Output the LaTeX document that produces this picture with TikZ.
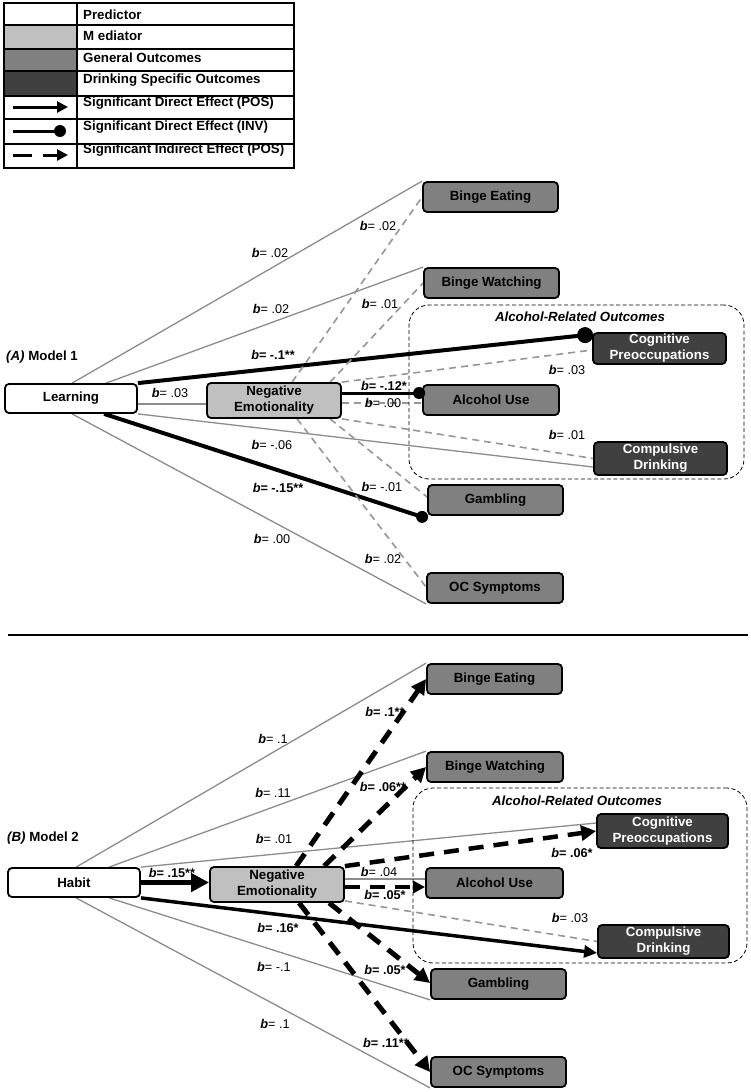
\documentclass[tikz,border=0pt]{standalone}
\usepackage{fontspec}
\setmainfont{Liberation Sans}
\usetikzlibrary{arrows.meta,calc}
\pgfdeclarelayer{edges}
\pgfsetlayers{edges,main}
\definecolor{medgray}{RGB}{192,192,192}
\definecolor{gengray}{RGB}{128,128,128}
\definecolor{drkgray}{RGB}{64,64,64}
\definecolor{linegray}{RGB}{140,140,140}
\definecolor{dashgray}{RGB}{150,150,150}
\newcommand{\bb}[1]{\textbf{\textit{b}}= #1}
\newcommand{\bbs}[1]{\textbf{\textit{b}= #1}}
\begin{document}
\begin{tikzpicture}[x=1pt,y=-1pt,
  box/.style={draw=black, line width=1.8pt, rounded corners=4pt, align=center, inner sep=1pt,
    font=\bfseries\fontsize{13.3}{16}\selectfont},
  pred/.style={box, fill=white},
  med/.style={box, fill=medgray},
  gen/.style={box, fill=gengray},
  drk/.style={box, fill=drkgray, text=white},
  grp/.style={draw=black, line width=0.8pt, dash pattern=on 4pt off 2.5pt, rounded corners=20pt},
  thin/.style={draw=linegray, line width=1.3pt},
  thindash/.style={draw=dashgray, line width=1.6pt, dash pattern=on 7pt off 5pt},
  direct/.style={draw=black, line width=4pt},
  indirect/.style={draw=black, line width=5pt, dash pattern=on 15pt off 10pt, -{Triangle[length=15pt,width=15pt]}},
  lab/.style={font=\fontsize{12.7}{14}\selectfont, inner sep=0pt},
  legtxt/.style={font=\bfseries\fontsize{13.3}{14}\selectfont, inner sep=0pt, anchor=west},
  dotmark/.style={fill=black}
]
\useasboundingbox (0,0) rectangle (750,1092);

% ---------------- Legend ----------------
\fill[medgray] (4,25) rectangle (77,49);
\fill[gengray] (4,49) rectangle (77,71);
\fill[drkgray] (4,71) rectangle (77,96);
\draw[line width=1.3pt] (4,3) rectangle (294,168);
\foreach \yy in {25,49,71,96,119,144} \draw[line width=1.3pt] (4,\yy) -- (294,\yy);
\draw[line width=1.3pt] (77,3) -- (77,168);
\node[legtxt] (lt1) at (83,14.5) {Predictor};
\node[legtxt] (lt2) at (83,35.5) {M ediator};
\node[legtxt] (lt3) at (83,58) {General Outcomes};
\node[legtxt] (lt4) at (83,80) {Drinking Specific Outcomes};
\node[legtxt] (lt5) at (83,103) {Significant Direct Effect (POS)};
\node[legtxt] (lt6) at (83,127) {Significant Direct Effect (INV)};
\node[legtxt] (lt7) at (83,150) {Significant Indirect Effect (POS)};
\coordinate (lgA1) at (13,107); \coordinate (lgA2) at (68,107);
\draw[line width=3pt, -{Triangle[length=11pt,width=11pt]}] (lgA1) -- (lgA2);
\coordinate (lgB1) at (13,131); \coordinate (lgB2) at (60,131);
\draw[line width=3pt] (lgB1) -- (lgB2);
\fill (lgB2) circle[radius=6pt];
\coordinate (lgC1) at (13,155); \coordinate (lgC2) at (68,155);
\draw[line width=3pt, dash pattern=on 19pt off 11pt, -{Triangle[length=11pt,width=11pt]}] (lgC1) -- (lgC2);

% ---------------- Model 1 ----------------
\node[legtxt] (titA) at (6,357) {\textit{(A)} Model 1};
\node[grp, minimum width=335pt, minimum height=174pt] (grpA) at (576.5,392) {};
\node[font=\bfseries\itshape\fontsize{13.3}{14}\selectfont, inner sep=0pt] (grpAt) at (580,317) {Alcohol-Related Outcomes};

\node[pred, minimum width=132pt, minimum height=29pt] (learn) at (71,398.5) {Learning};
\node[med, minimum width=134pt, minimum height=35pt] (ne1) at (274,400.5) {Negative\\Emotionality};
\node[gen, minimum width=135pt, minimum height=30pt] (be1) at (490.5,197) {Binge Eating};
\node[gen, minimum width=135pt, minimum height=30pt] (bw1) at (491.5,283) {Binge Watching};
\node[drk, minimum width=133pt, minimum height=31pt] (cog1) at (659.5,348.5) {Cognitive\\Preoccupations};
\node[gen, minimum width=136pt, minimum height=30pt] (au1) at (491,400) {Alcohol Use};
\node[drk, minimum width=133pt, minimum height=33pt] (cd1) at (660.5,458.5) {Compulsive\\Drinking};
\node[gen, minimum width=135pt, minimum height=30pt] (gam1) at (495.5,500) {Gambling};
\node[gen, minimum width=136pt, minimum height=30pt] (oc1) at (495,588) {OC Symptoms};

\coordinate (c1dot) at ($(cog1.north west)+(-7,3)$);
\coordinate (a1dot) at ($(au1.west)+(-3,-7)$);
\coordinate (g1dot) at ($(gam1.south west)+(-5,1)$);

\begin{pgfonlayer}{edges}
\draw[thin] ($(learn.north west)+(68,0)$) -- (be1.north west);
\draw[thin] ($(learn.north west)+(102,0)$) -- (bw1.north west);
\draw[direct] (learn.north east) -- (c1dot);
\draw[thin] ($(learn.east)+(0,5.5)$) -- ($(ne1.west)+(0,3.5)$);
\draw[thin] (learn.south east) -- ($(cd1.west)+(0,8.5)$);
\draw[direct] ($(learn.south west)+(100,0)$) -- (g1dot);
\draw[thin] ($(learn.south west)+(68,0)$) -- (oc1.south west);
\draw[thindash] ($(ne1.north west)+(86,0)$) -- (be1.west);
\draw[thindash] ($(ne1.north west)+(124,0)$) -- (bw1.west);
\draw[thindash] (ne1.north east) -- ($(cog1.west)+(0,1.5)$);
\draw[draw=black, line width=3pt] ($(ne1.east)+(0,-7.5)$) -- (a1dot);
\draw[thindash] ($(ne1.east)+(0,2.5)$) -- ($(au1.west)+(0,3)$);
\draw[thindash] (ne1.south east) -- (cd1.west);
\draw[thindash] ($(ne1.south west)+(124,0)$) -- ($(gam1.west)+(0,-3)$);
\draw[thindash] ($(ne1.south west)+(91,0)$) -- ($(oc1.west)+(0,-1)$);
\end{pgfonlayer}
\fill[dotmark] (c1dot) circle[radius=8pt];
\fill[dotmark] (a1dot) circle[radius=6pt];
\fill[dotmark] (g1dot) circle[radius=6pt];

\node[lab] (m1l1) at (270,253) {\bb{.02}};
\node[lab] (m1l2) at (271,309) {\bb{.02}};
\node[lab] (m1l3) at (273,355) {\bbs{-.1**}};
\node[lab] (m1l4) at (170,393) {\bb{.03}};
\node[lab] (m1l5) at (378,226) {\bb{.02}};
\node[lab] (m1l6) at (380,304) {\bb{.01}};
\node[lab] (m1l7) at (384,386) {\bbs{-.12*}};
\node[lab] (m1l8) at (383,403) {\bb{.00}};
\node[lab] (m1l9) at (567,370) {\bb{.03}};
\node[lab] (m1l10) at (567,435) {\bb{.01}};
\node[lab] (m1l11) at (272,445) {\bb{-.06}};
\node[lab] (m1l12) at (278,488) {\bbs{-.15**}};
\node[lab] (m1l13) at (382,487) {\bb{-.01}};
\node[lab] (m1l14) at (272,539) {\bb{.00}};
\node[lab] (m1l15) at (383,559) {\bb{.02}};

% separator
\coordinate (sepL) at (8,635); \coordinate (sepR) at (748,635);
\draw[line width=2.5pt] (sepL) -- (sepR);

% ---------------- Model 2 ----------------
\node[legtxt] (titB) at (7,838) {\textit{(B)} Model 2};
\node[grp, minimum width=334pt, minimum height=175pt] (grpB) at (580,875.5) {};
\node[font=\bfseries\itshape\fontsize{13.3}{14}\selectfont, inner sep=0pt] (grpBt) at (577,801) {Alcohol-Related Outcomes};

\node[pred, minimum width=132pt, minimum height=29pt] (habit) at (74,882.5) {Habit};
\node[med, minimum width=134pt, minimum height=35pt] (ne2) at (277,884.5) {Negative\\Emotionality};
\node[gen, minimum width=135pt, minimum height=30pt] (be2) at (494.5,679) {Binge Eating};
\node[gen, minimum width=136pt, minimum height=30pt] (bw2) at (495,767) {Binge Watching};
\node[drk, minimum width=131pt, minimum height=34pt] (cog2) at (662.5,831) {Cognitive\\Preoccupations};
\node[gen, minimum width=137pt, minimum height=30pt] (au2) at (494.5,883) {Alcohol Use};
\node[drk, minimum width=131pt, minimum height=33pt] (cd2) at (663.5,941.5) {Compulsive\\Drinking};
\node[gen, minimum width=135pt, minimum height=30pt] (gam2) at (498.5,984) {Gambling};
\node[gen, minimum width=135pt, minimum height=30pt] (oc2) at (498.5,1072) {OC Symptoms};

\begin{pgfonlayer}{edges}
\draw[thin] ($(habit.north west)+(69,0)$) -- (be2.north west);
\draw[thin] ($(habit.north west)+(102,0)$) -- (bw2.north west);
\draw[thin] (habit.north east) -- ($(cog2.west)+(0,-8)$);
\draw[draw=black, line width=5pt, -{Triangle[length=18pt,width=18pt]}] (habit.east) -- (habit.east -| ne2.west);
\draw[draw=black, line width=3.5pt, -{Triangle[length=13pt,width=12pt]}] (habit.south east) -- ($(cd2.west)+(0,11.5)$);
\draw[thin] ($(habit.south west)+(102,0)$) -- (gam2.south west);
\draw[thin] ($(habit.south west)+(69,0)$) -- (oc2.south west);
\draw[indirect] ($(ne2.north west)+(87,0)$) -- (be2.west);
\draw[indirect] ($(ne2.north west)+(115,0)$) -- (bw2.west);
\draw[indirect, line width=4.5pt] (ne2.north east) -- (cog2.west);
\draw[thin] ($(ne2.east)+(0,-5.5)$) -- ($(au2.west)+(0,-4)$);
\draw[indirect, line width=4pt, -{Triangle[length=12pt,width=12pt]}] ($(ne2.east)+(0,2.5)$) -- ($(au2.west)+(0,4)$);
\draw[thindash] ($(ne2.south east)+(0,-2)$) -- (cd2.west);
\draw[indirect] ($(ne2.south west)+(120,0)$) -- ($(gam2.west)+(0,-1)$);
\draw[indirect] ($(ne2.south west)+(90,0)$) -- (oc2.west);
\end{pgfonlayer}

\node[lab] (m2l1) at (273,739) {\bb{.1}};
\node[lab] (m2l2) at (273,793) {\bb{.11}};
\node[lab] (m2l3) at (274,839) {\bb{.01}};
\node[lab] (m2l4) at (172,873) {\bbs{.15**}};
\node[lab] (m2l5) at (385,712) {\bbs{.1**}};
\node[lab] (m2l6) at (383,787) {\bbs{.06**}};
\node[lab] (m2l7) at (379,872) {\bb{.04}};
\node[lab] (m2l8) at (385,895) {\bbs{.05*}};
\node[lab] (m2l9) at (572,853) {\bbs{.06*}};
\node[lab] (m2l10) at (570,918) {\bb{.03}};
\node[lab] (m2l11) at (278,928) {\bbs{.16*}};
\node[lab] (m2l12) at (274,967) {\bb{-.1}};
\node[lab] (m2l13) at (385,970) {\bbs{.05*}};
\node[lab] (m2l14) at (275,1024) {\bb{.1}};
\node[lab] (m2l15) at (386,1043) {\bbs{.11**}};
\end{tikzpicture}
\end{document}
